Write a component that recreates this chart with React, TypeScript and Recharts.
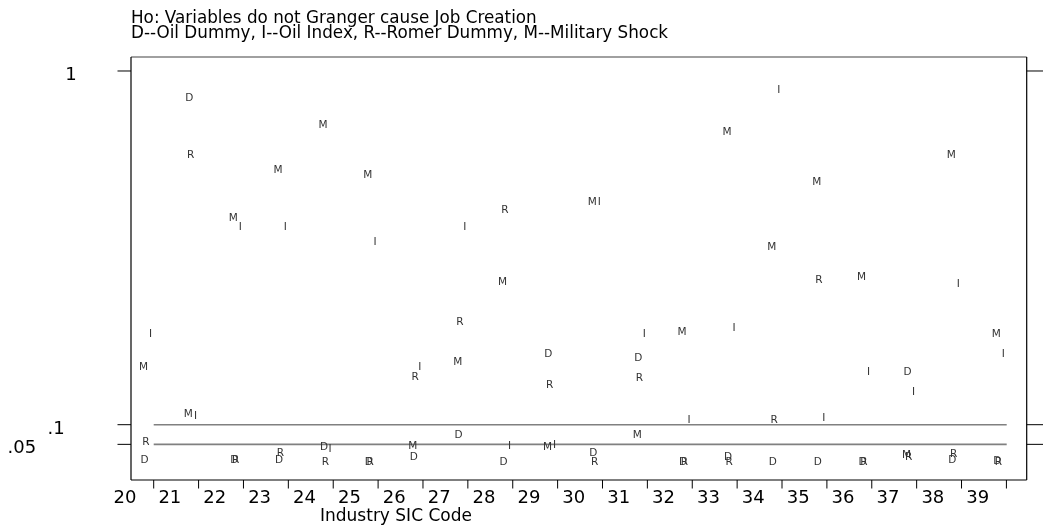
import React from 'react';
import { ScatterChart, Scatter, XAxis, YAxis, ReferenceLine } from 'recharts';

// ---------- data ----------
const sicCodes = [20, 21, 22, 23, 24, 25, 26, 27, 28, 29, 30, 31, 32, 33, 34, 35, 36, 37, 38, 39];
const xTickLabels = ['20', '21', '22', '23', '24', '25', '26', '27', '28', '29', '30', '31', '32', '33', '34', '35', '36', '37', '38', '39'];

// p-values of the Granger causality tests, by industry
const oilDummy = [0.012, 0.933, 0.012, 0.013, 0.046, 0.007, 0.02, 0.077, 0.007, 0.282, 0.029, 0.272, 0.007, 0.02, 0.007, 0.007, 0.007, 0.237, 0.012, 0.01];
const oilIndex = [0.334, 0.123, 0.606, 0.606, 0.04, 0.568, 0.249, 0.604, 0.047, 0.051, 0.669, 0.332, 0.115, 0.349, 0.954, 0.12, 0.237, 0.186, 0.461, 0.283];
const romerDummy = [0.058, 0.788, 0.012, 0.029, 0.007, 0.007, 0.224, 0.364, 0.648, 0.203, 0.007, 0.221, 0.007, 0.007, 0.114, 0.471, 0.007, 0.019, 0.027, 0.007];
const militaryShock = [0.248, 0.129, 0.629, 0.751, 0.865, 0.738, 0.047, 0.262, 0.466, 0.046, 0.669, 0.077, 0.338, 0.848, 0.555, 0.72, 0.477, 0.025, 0.788, 0.334];

const yTicks = [0.05, 0.1, 1];
const yTickLabels = ['.05', '.1', '1'];
const significanceLevels = [0.1, 0.05];

const titleLines = [
  'Ho: Variables do not Granger cause Job Creation',
  'D--Oil Dummy, I--Oil Index, R--Romer Dummy, M--Military Shock',
];
const xAxisTitle = 'Industry SIC Code';

// ---------- layout / style ----------
const W = 1045;
const H = 529;
const FONT = '"DejaVu Sans", Verdana, sans-serif';
const X_DOMAIN: [number, number] = [19.688, 39.646];
const Y_DOMAIN: [number, number] = [-0.0407, 1.0356];
const TICK_DX = 8.7; // tick marks sit to the right of each code position
const LABEL_DX = -20; // tick labels sit to the left of each code position
const yLabelStyle: Record<string, { dx: number }> = {
  '1': { dx: -54.2 },
  '.1': { dx: -66.2 },
  '.05': { dx: -94.8 },
};

const seriesDefs = [
  { name: 'D', values: oilDummy, dx: -0.5 },
  { name: 'I', values: oilIndex, dx: 5.6 },
  { name: 'R', values: romerDummy, dx: 0.8 },
  { name: 'M', values: militaryShock, dx: -1.5 },
];

const makeLetterShape = (letter: string, dx: number) => (props: any) => {
  const { cx, cy } = props;
  if (cx == null || cy == null) return <g />;
  return (
    <text
      x={cx + dx}
      y={cy + 3.8}
      textAnchor="middle"
      fontFamily={FONT}
      fontSize={10.5}
      fill="#333"
    >
      {letter}
    </text>
  );
};

const BottomTick = (props: any) => {
  const { x, y, payload } = props;
  const idx = sicCodes.indexOf(payload.value);
  return (
    <g>
      <line x1={x + TICK_DX} x2={x + TICK_DX} y1={y} y2={y + 8.5} stroke="#000" strokeWidth={1} />
      <text x={x + LABEL_DX} y={y + 23} textAnchor="middle" fontFamily={FONT} fontSize={18} fill="#000">
        {xTickLabels[idx]}
      </text>
    </g>
  );
};

const TopTick = (props: any) => {
  const { x, y } = props;
  return <line x1={x + TICK_DX} x2={x + TICK_DX} y1={y} y2={y - 9.5} stroke="#000" strokeWidth={1} />;
};

const LeftTick = (props: any) => {
  const { x, y, payload } = props;
  const label = yTickLabels[yTicks.indexOf(payload.value)];
  const st = yLabelStyle[label];
  return (
    <g>
      <line x1={x - 13.5} x2={x} y1={y} y2={y} stroke="#000" strokeWidth={1} />
      <text x={x + st.dx} y={y + 8.8} textAnchor="end" fontFamily={FONT} fontSize={18} fill="#000">
        {label}
      </text>
    </g>
  );
};

const RightTick = (props: any) => {
  const { x, y } = props;
  return <line x1={x} x2={x + 16.3} y1={y} y2={y} stroke="#000" strokeWidth={1} />;
};

const RefLineShape = (props: any) => {
  const { x1, x2, y1, y2 } = props;
  return (
    <line
      x1={x1 + (153.7 - 131)}
      x2={x2 - (1026.7 - 1006.7)}
      y1={y1}
      y2={y2}
      stroke="#808080"
      strokeWidth={1.6}
    />
  );
};

export default function App() {
  return (
    <div style={{ position: 'absolute', left: 0, top: 0, width: W, height: H }}>
      <ScatterChart
        width={W}
        height={H}
        margin={{ top: 0, right: 0, bottom: 0, left: 0 }}
        style={{ willChange: 'transform' }}
      >
        <XAxis
          xAxisId="bottom"
          dataKey="sic"
          type="number"
          domain={X_DOMAIN}
          ticks={sicCodes}
          interval={0}
          orientation="bottom"
          height={49}
          tickSize={0}
          tickMargin={0}
          tickLine={false}
          tick={BottomTick}
          axisLine={{ stroke: '#000', strokeWidth: 1.2 }}
          allowDataOverflow
        />
        <XAxis
          xAxisId="top"
          type="number"
          domain={X_DOMAIN}
          ticks={sicCodes}
          interval={0}
          orientation="top"
          height={57}
          tickSize={0}
          tickMargin={0}
          tickLine={false}
          tick={TopTick}
          axisLine={{ stroke: '#808080', strokeWidth: 1.6 }}
          allowDataOverflow
        />
        <YAxis
          yAxisId="left"
          dataKey="value"
          type="number"
          domain={Y_DOMAIN}
          ticks={yTicks}
          interval={0}
          orientation="left"
          width={131}
          tickSize={0}
          tickMargin={0}
          tickLine={false}
          tick={LeftTick}
          axisLine={{ stroke: '#000', strokeWidth: 1.2 }}
          allowDataOverflow
        />
        <YAxis
          yAxisId="right"
          type="number"
          domain={Y_DOMAIN}
          ticks={yTicks}
          interval={0}
          orientation="right"
          width={18.3}
          tickSize={0}
          tickMargin={0}
          tickLine={false}
          tick={RightTick}
          axisLine={{ stroke: '#000', strokeWidth: 1.2 }}
          allowDataOverflow
        />
        {significanceLevels.map((lvl) => (
          <ReferenceLine
            key={lvl}
            xAxisId="bottom"
            yAxisId="left"
            y={lvl}
            shape={RefLineShape}
            ifOverflow="visible"
          />
        ))}
        {seriesDefs.map((s) => (
          <Scatter
            key={s.name}
            name={s.name}
            xAxisId="bottom"
            yAxisId="left"
            data={sicCodes.map((sic, i) => ({ sic, value: s.values[i] }))}
            shape={makeLetterShape(s.name, s.dx)}
            isAnimationActive={false}
          />
        ))}
      </ScatterChart>
      <svg
        width={W}
        height={H}
        style={{ position: 'absolute', left: 0, top: 0, pointerEvents: 'none', willChange: 'transform' }}
      >
        <text x={131} y={23.3} fontFamily={FONT} fontSize={16.8} fill="#000">
          {titleLines[0]}
        </text>
        <text x={131} y={37.7} fontFamily={FONT} fontSize={16.8} fill="#000">
          {titleLines[1]}
        </text>
        <text x={320} y={521} fontFamily={FONT} fontSize={17} fill="#000">
          {xAxisTitle}
        </text>
      </svg>
    </div>
  );
}
